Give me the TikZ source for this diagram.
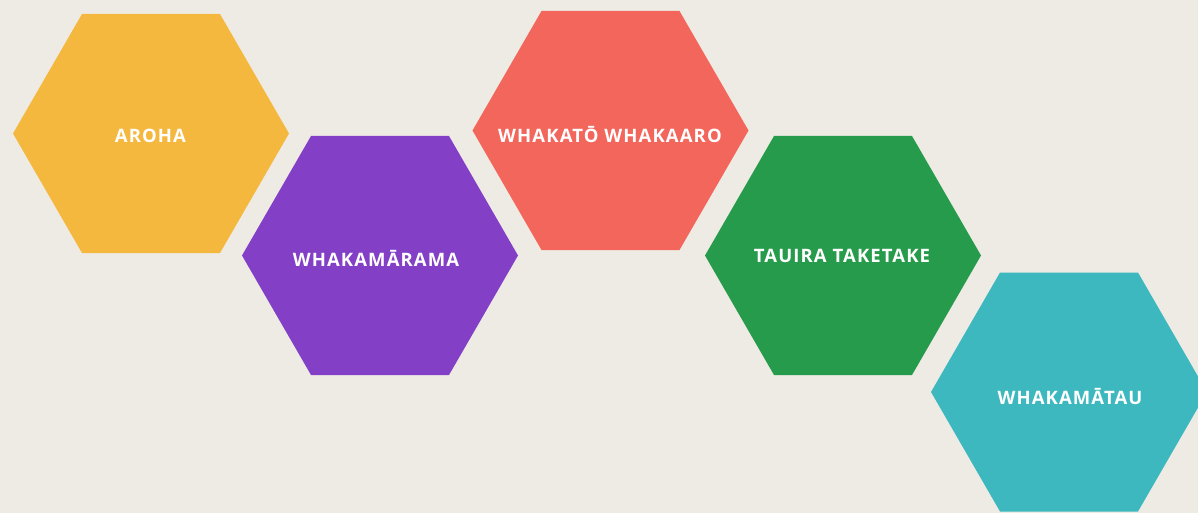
\documentclass[tikz,border=0pt]{standalone}
\usepackage{fontspec}
\setmainfont{Open Sans}
\newfontfamily\labelfont[LetterSpace=6.0]{Open Sans}
\definecolor{bg}{HTML}{EEEBE4}
\definecolor{hyellow}{HTML}{F4B83E}
\definecolor{hpurple}{HTML}{8340C7}
\definecolor{hred}{HTML}{F2665C}
\definecolor{hgreen}{HTML}{269B4B}
\definecolor{hteal}{HTML}{3DB8BF}
\begin{document}
\begin{tikzpicture}[x=1pt,y=-1pt,
  hexlabel/.style={text=white,font=\labelfont\bfseries\fontsize{18.5}{20}\selectfont,inner sep=0pt}]
\useasboundingbox (0,0) rectangle (1198,513);
\fill[bg] (0,0) rectangle (1198,513);
\begin{scope}
\clip (0,0) rectangle (1198,513);
\foreach \cx/\cy/\col/\nm in {151/133.5/hyellow/h1,380/255.5/hpurple/h2,610.5/130.5/hred/h3,843/255.5/hgreen/h4,1069/392/hteal/h5}{
  \fill[\col] (\cx-138,\cy) -- (\cx-69,\cy-119.5) -- (\cx+69,\cy-119.5) -- (\cx+138,\cy) -- (\cx+69,\cy+119.5) -- (\cx-69,\cy+119.5) -- cycle;
}
\end{scope}
\node[hexlabel] (t1) at (150.5,135.5) {AROHA};
\node[hexlabel] (t2) at (376,258.5) {WHAKAMĀRAMA};
\node[hexlabel] (t3) at (610,135) {WHAKATŌ WHAKAARO};
\node[hexlabel] (t4) at (842,256) {TAUIRA TAKETAKE};
\node[hexlabel] (t5) at (1070,397) {WHAKAMĀTAU};
\end{tikzpicture}
\end{document}
